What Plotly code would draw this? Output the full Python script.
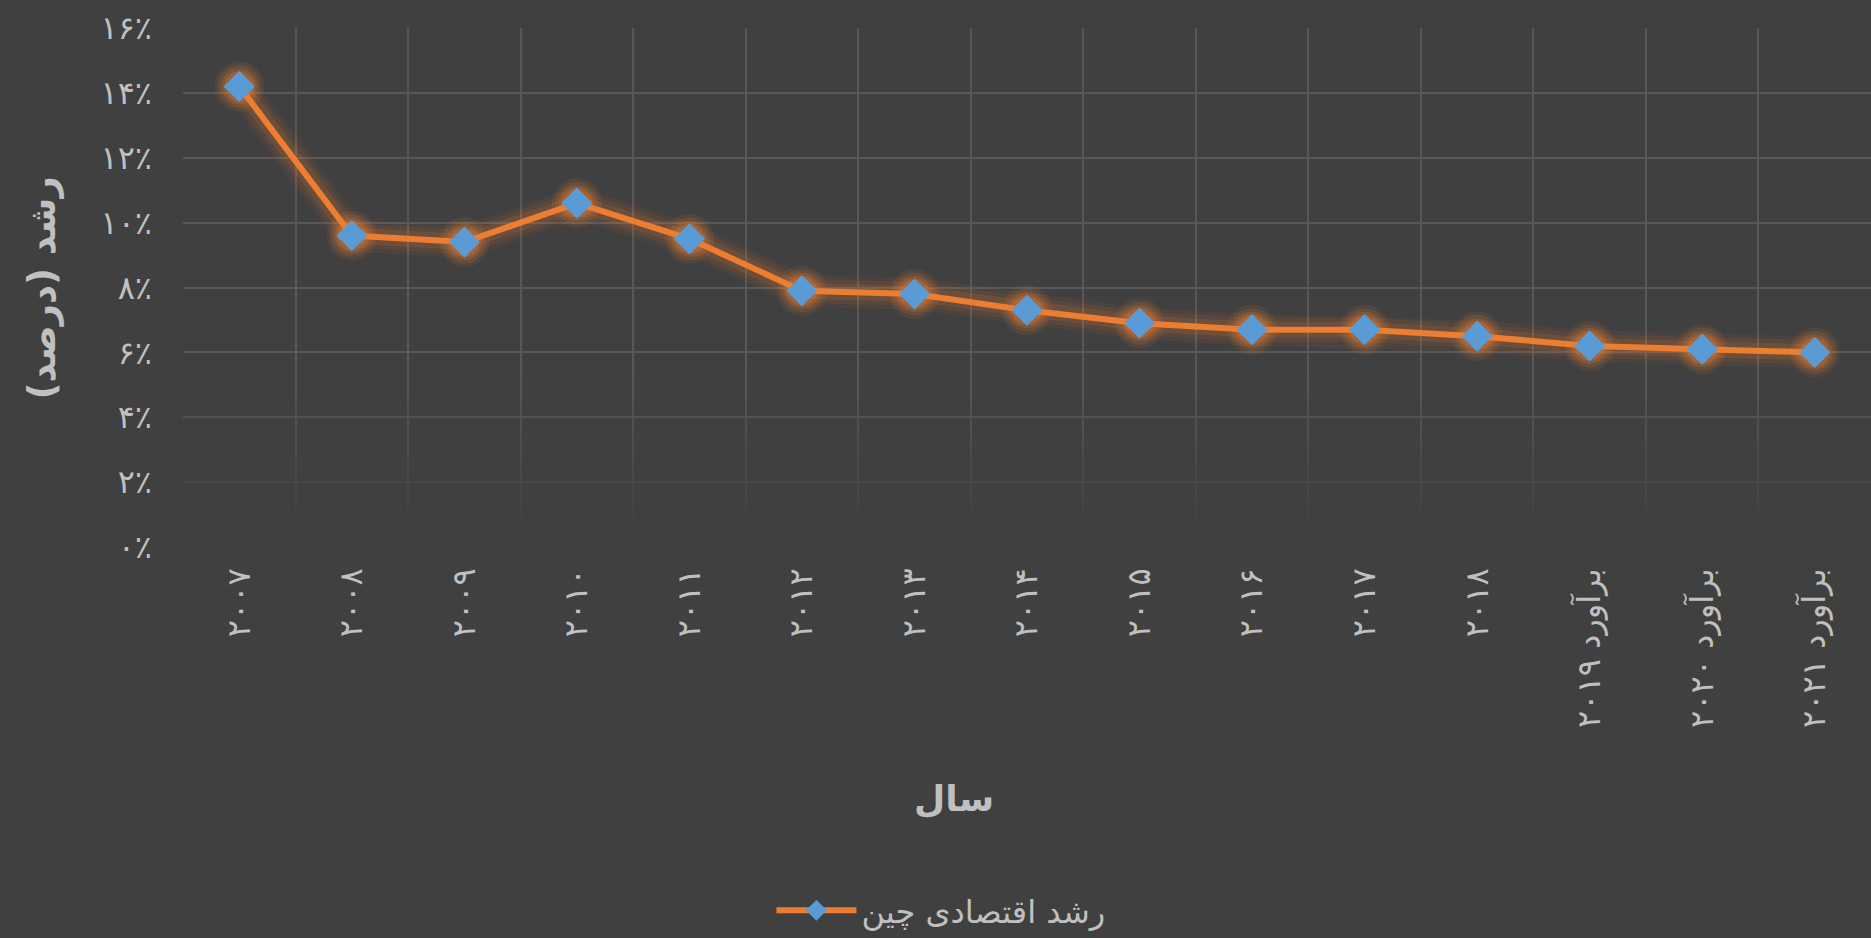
"""China GDP growth line chart, Excel dark-theme look."""

import base64

import plotly.graph_objects as go

# data
years = [
    "۲۰۰۷", "۲۰۰۸", "۲۰۰۹", "۲۰۱۰", "۲۰۱۱", "۲۰۱۲", "۲۰۱۳", "۲۰۱۴",
    "۲۰۱۵", "۲۰۱۶", "۲۰۱۷", "۲۰۱۸",
    "برآورد ۲۰۱۹", "برآورد ۲۰۲۰", "برآورد ۲۰۲۱",
]
growth = [14.2, 9.6, 9.4, 10.6, 9.5, 7.9, 7.8, 7.3, 6.9, 6.7, 6.7, 6.5, 6.2, 6.1, 6.0]

y_ticks = [0, 2, 4, 6, 8, 10, 12, 14, 16]
y_tick_text = ["۰٪", "۲٪", "۴٪", "۶٪", "۸٪", "۱۰٪", "۱۲٪", "۱۴٪", "۱۶٪"]

series_name = "رشد اقتصادی چین"
x_title = "سال"
y_title = "\u202bرشد (درصد)\u202c"

BG = "#404040"
GRID = "#585858"
TEXT = "#C0C0C0"
ORANGE = "#ED7D31"
BLUE = "#5B9BD5"
FONT = "DejaVu Sans"

fig = go.Figure()

# soft orange glow: a few stacked translucent layers (Excel "glow" effect)
for width, alpha in [(32, 0.06), (24, 0.09), (16, 0.14)]:
    fig.add_trace(go.Scatter(
        x=years, y=growth, mode="lines",
        line=dict(color=f"rgba(237,125,49,{alpha})", width=width),
        showlegend=False, hoverinfo="skip",
    ))
for size, alpha in [(50, 0.10), (43, 0.14), (36, 0.19), (30, 0.26)]:
    fig.add_trace(go.Scatter(
        x=years, y=growth, mode="markers",
        marker=dict(symbol="circle", size=size, color=f"rgba(237,125,49,{alpha})", line=dict(width=0)),
        showlegend=False, hoverinfo="skip",
    ))

fig.add_trace(go.Scatter(
    x=years, y=growth, name=series_name,
    mode="lines+markers",
    line=dict(color=ORANGE, width=6),
    marker=dict(symbol="diamond", size=24, color=BLUE, line=dict(width=0)),
))

# gridlines fade out towards the bottom of the plot
svg = (
    "<svg xmlns='http://www.w3.org/2000/svg' width='10' height='100' preserveAspectRatio='none'>"
    "<defs><linearGradient id='g' x1='0' y1='0' x2='0' y2='1'>"
    f"<stop offset='0' stop-color='{BG}' stop-opacity='0'/>"
    f"<stop offset='0.92' stop-color='{BG}' stop-opacity='1'/>"
    "</linearGradient></defs>"
    "<rect width='10' height='100' fill='url(#g)'/></svg>"
)
fade_src = "data:image/svg+xml;base64," + base64.b64encode(svg.encode()).decode()

fig.update_layout(
    width=1871, height=938,
    paper_bgcolor=BG, plot_bgcolor=BG,
    font=dict(family=FONT, color=TEXT),
    margin=dict(l=183, r=0, t=28, b=390),
    xaxis=dict(
        type="category",
        tickson="boundaries",
        showgrid=True, gridcolor=GRID, gridwidth=2,
        zeroline=False, showline=False,
        tickangle=-90,
        ticks="", ticklabelstandoff=14,
        tickfont=dict(size=32, color=TEXT, family=FONT),
        range=[-0.5, len(years) - 0.5],
    ),
    yaxis=dict(
        range=[0, 16],
        tickvals=y_ticks, ticktext=y_tick_text,
        showgrid=True, gridcolor=GRID, gridwidth=2,
        zeroline=False, showline=False,
        ticks="", ticklabelstandoff=30,
        tickfont=dict(size=32, color=TEXT, family=FONT),
    ),
    images=[dict(
        source=fade_src, xref="paper", yref="paper",
        x=0, y=0.34, sizex=1, sizey=0.34,
        xanchor="left", yanchor="top",
        sizing="stretch", layer="above",
    )],
    showlegend=True,
    legend=dict(
        orientation="h",
        x=0.449, y=-0.70, xanchor="center", yanchor="middle",
        bgcolor="rgba(0,0,0,0)",
        font=dict(size=32, color=TEXT, family=FONT),
        itemwidth=80,
    ),
)

fig.add_annotation(
    text=f"<b>{x_title}</b>",
    xref="paper", yref="paper",
    x=0.457, y=-0.485, xanchor="center", yanchor="middle",
    showarrow=False,
    font=dict(size=36, color=TEXT, family=FONT),
)
fig.add_annotation(
    text=f"<b>{y_title}</b>",
    xref="paper", yref="paper",
    x=-0.083, y=0.5, xanchor="center", yanchor="middle",
    textangle=-90, showarrow=False,
    font=dict(size=37, color=TEXT, family=FONT),
)

fig.write_html(
    "out.html",
    config={"displayModeBar": False},
    post_script="document.body.style.margin='0';document.body.style.overflow='hidden';",
)
